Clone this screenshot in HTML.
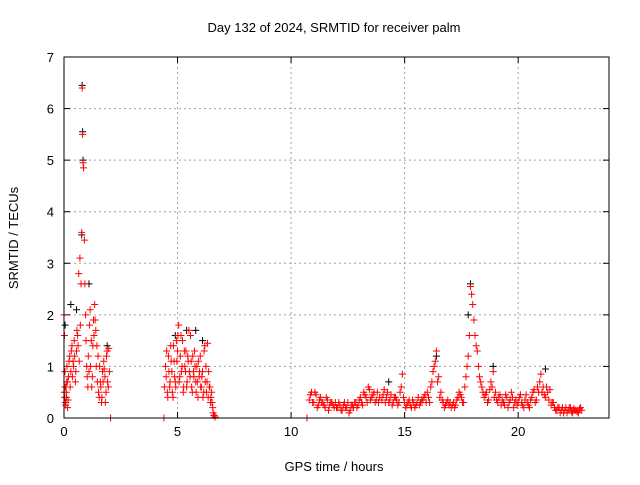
<!DOCTYPE html>
<html><head><meta charset="utf-8"><style>
body{margin:0;background:#fff;}
svg text{font-family:"Liberation Sans",sans-serif;font-size:13px;fill:#000;}
</style></head><body>
<svg id="chart" width="640" height="480" xmlns="http://www.w3.org/2000/svg">
<rect width="640" height="480" fill="#fff"/>
<text x="334" y="32" text-anchor="middle">Day 132 of 2024, SRMTID for receiver palm</text>
<text x="334" y="471" text-anchor="middle">GPS time / hours</text>
<text transform="translate(18,238) rotate(-90)" text-anchor="middle">SRMTID / TECUs</text>
<g id="grid"></g>
<g id="axes"></g>
<g id="black"></g>
<g id="red"></g>
<rect x="64" y="57" width="545" height="361" fill="none" stroke="#000" stroke-width="1"/>
</svg>
<script>
const xTicks=[0,5,10,15,20];
const yTicks=[0,1,2,3,4,5,6,7];
const redT=[0.0,0.02,0.03,0.05,0.06,0.08,0.1,0.12,0.13,0.16,0.2,0.25,0.3,0.35,0.4,0.45,0.5,0.55,0.6,0.65,0.7,0.72,0.75,0.78,0.8,0.82,0.84,0.86,0.9,0.95,1.0,1.05,1.1,1.15,1.2,1.25,1.3,1.35,1.4,1.45,1.5,1.55,1.6,1.65,1.7,1.75,1.8,1.85,1.9,1.95,2.0,2.05,
4.4,4.5,4.55,4.6,4.65,4.7,4.75,4.8,4.85,4.9,4.95,5.0,5.05,5.1,5.15,5.2,5.25,5.3,5.35,5.4,5.45,5.5,5.55,5.6,5.65,5.7,5.75,5.8,5.85,5.9,5.95,6.0,6.05,6.1,6.15,6.2,6.25,6.3,6.35,6.4,6.45,6.5,6.55,6.6,6.65,
10.7,10.8,10.9,11.0,11.1,11.2,11.3,11.4,11.5,11.6,11.7,11.8,11.9,12.0,12.1,12.2,12.3,12.4,12.5,12.6,12.7,12.8,12.9,13.0,13.1,13.2,13.3,13.4,13.5,13.6,13.7,13.8,13.9,14.0,14.1,14.2,14.3,14.4,14.5,14.6,14.7,14.8,14.9,15.0,15.1,15.2,15.3,15.4,15.5,15.6,15.7,15.8,15.9,16.0,16.1,16.2,16.3,16.4,16.5,16.6,16.7,16.8,16.9,17.0,17.1,17.2,17.3,17.4,17.5,17.6,17.7,17.8,17.9,18.0,18.1,18.2,18.3,18.4,18.5,18.6,18.7,18.8,18.9,19.0,19.1,19.2,19.3,19.4,19.5,19.6,19.7,19.8,19.9,20.0,20.1,20.2,20.3,20.4,20.5,20.6,20.7,20.8,20.9,21.0,21.1,21.2,21.3,21.4,21.5,21.6,21.7,21.8,21.9,22.0,22.1,22.2,22.3,22.4,22.5,22.6,22.7,22.8];
const redV=[2.0,1.6,0.4,0.6,0.3,0.3,0.5,0.7,1.0,0.2,0.8,1.2,0.9,1.4,1.1,1.5,0.7,1.3,1.6,2.8,3.1,1.8,2.6,3.6,6.4,5.5,4.95,4.85,3.45,2.0,1.0,0.6,0.9,2.1,1.5,0.8,1.9,2.2,1.7,1.4,1.2,0.4,0.7,0.3,0.9,1.1,0.8,0.5,1.3,0.6,0.9,0.0,
0.0,0.8,0.5,1.2,0.6,1.4,0.9,0.4,1.1,0.7,1.5,1.3,1.8,0.8,1.6,1.0,0.5,1.3,0.9,0.6,1.2,1.7,0.8,1.1,0.5,0.9,1.3,0.7,1.0,0.4,0.8,1.2,0.6,0.9,0.5,1.4,1.0,0.7,0.4,0.6,0.3,0.5,0.2,0.05,0.02,
0.0,0.35,0.5,0.3,0.45,0.25,0.4,0.3,0.2,0.35,0.25,0.3,0.2,0.2,0.3,0.15,0.25,0.2,0.3,0.15,0.25,0.3,0.2,0.35,0.3,0.5,0.4,0.6,0.35,0.45,0.3,0.5,0.4,0.35,0.55,0.4,0.3,0.45,0.3,0.4,0.25,0.5,0.85,0.3,0.25,0.35,0.2,0.3,0.25,0.4,0.3,0.35,0.45,0.5,0.3,0.7,1.0,1.3,0.8,0.5,0.3,0.25,0.35,0.3,0.25,0.2,0.35,0.5,0.4,0.3,0.8,1.2,2.55,2.2,1.6,1.3,0.8,0.6,0.4,0.5,0.35,0.7,0.9,0.5,0.3,0.45,0.35,0.25,0.4,0.3,0.5,0.2,0.35,0.3,0.45,0.25,0.35,0.3,0.2,0.4,0.55,0.35,0.5,0.85,0.6,0.4,0.5,0.55,0.3,0.2,0.15,0.2,0.15,0.1,0.2,0.15,0.2,0.1,0.15,0.12,0.18,0.15];
const red2T=[0.01,0.04,0.07,0.09,0.11,0.15,0.18,0.22,0.27,0.32,0.37,0.42,0.47,0.52,0.57,0.62,0.67,0.92,0.97,1.02,1.07,1.12,1.17,1.22,1.27,1.32,1.37,1.42,1.47,1.52,1.57,1.62,1.67,1.72,1.77,1.82,1.87,1.92,1.97,
4.42,4.47,4.52,4.57,4.62,4.67,4.72,4.77,4.82,4.87,4.92,4.97,5.02,5.07,5.12,5.17,5.22,5.27,5.32,5.37,5.42,5.47,5.52,5.57,5.62,5.67,5.72,5.77,5.82,5.87,5.92,5.97,6.02,6.07,6.12,6.17,6.22,6.27,6.32,6.37,6.42,6.47,6.52,6.57,6.62,
10.85,10.95,11.05,11.15,11.25,11.35,11.45,11.55,11.65,11.75,11.85,11.95,12.05,12.15,12.25,12.35,12.45,12.55,12.65,12.75,12.85,12.95,13.05,13.15,13.25,13.35,13.45,13.55,13.65,13.75,13.85,14.05,14.15,14.25,14.35,14.45,14.55,14.65,14.75,14.85,14.95,15.05,15.15,15.25,15.35,15.45,15.55,15.65,15.75,15.85,15.95,16.05,16.15,16.25,16.35,16.45,16.55,16.65,16.75,16.85,16.95,17.05,17.15,17.25,17.35,17.45,17.55,17.65,17.75,17.85,17.95,18.05,18.15,18.25,18.35,18.45,18.55,18.65,18.75,18.85,18.95,19.05,19.15,19.25,19.35,19.45,19.55,19.65,19.75,19.85,19.95,20.05,20.15,20.25,20.35,20.45,20.55,20.65,20.75,20.85,20.95,21.05,21.15,21.25,21.35,21.45,21.55,21.65,21.75,21.85,21.95,22.05,22.15,22.25,22.35,22.45,22.55,22.65,22.75];
const red2V=[0.5,0.9,0.25,0.6,0.4,0.7,0.35,1.1,0.6,1.3,0.8,1.0,1.2,0.9,1.7,1.4,1.1,2.6,1.5,0.8,1.2,1.8,1.0,0.6,1.4,1.6,1.9,1.0,0.7,0.5,1.0,0.6,0.4,0.7,0.95,0.3,1.2,0.7,1.35,
0.6,1.0,1.3,0.4,0.9,0.7,1.1,0.5,1.4,0.8,0.6,1.1,1.6,0.7,1.2,0.9,1.5,0.6,1.0,1.3,0.7,1.1,0.9,1.6,0.6,1.2,0.8,1.0,0.5,0.7,1.1,0.9,0.6,0.8,0.4,1.3,0.7,0.5,1.45,0.9,0.6,0.4,0.3,0.1,0.05,
0.45,0.3,0.5,0.2,0.35,0.3,0.25,0.4,0.15,0.3,0.25,0.3,0.2,0.25,0.15,0.3,0.2,0.1,0.25,0.2,0.3,0.25,0.4,0.25,0.45,0.3,0.55,0.4,0.5,0.35,0.3,0.45,0.3,0.5,0.35,0.25,0.4,0.35,0.3,0.6,0.4,0.2,0.3,0.25,0.35,0.2,0.3,0.25,0.35,0.4,0.3,0.4,0.6,0.9,1.1,0.7,0.4,0.35,0.2,0.3,0.25,0.2,0.3,0.25,0.4,0.45,0.3,0.6,1.0,1.6,2.4,1.9,1.4,1.0,0.7,0.5,0.45,0.3,0.55,0.6,0.4,0.35,0.4,0.25,0.3,0.45,0.2,0.35,0.4,0.3,0.25,0.4,0.3,0.2,0.45,0.25,0.35,0.5,0.3,0.6,0.7,0.5,0.45,0.6,0.35,0.25,0.3,0.15,0.2,0.1,0.2,0.15,0.1,0.2,0.12,0.18,0.15,0.1,0.2];
const blackT=[0.05,0.3,0.55,0.8,0.82,0.84,0.78,1.1,1.9,4.9,5.4,5.8,6.1,14.3,16.4,17.8,17.9,18.9,21.2];
const blackV=[1.8,2.2,2.1,6.45,5.55,5.0,3.55,2.6,1.4,1.6,1.7,1.7,1.5,0.7,1.2,2.0,2.6,1.0,0.95];
const X0=64,X1=609,Y0=418,Y1=57,XMAX=24,YMAX=7;
const sx=t=>X0+t/XMAX*(X1-X0);
const sy=v=>Y0-v/YMAX*(Y0-Y1);
const NS="http://www.w3.org/2000/svg";
function mk(tag,attrs,parent){const e=document.createElementNS(NS,tag);for(const k in attrs)e.setAttribute(k,attrs[k]);parent.appendChild(e);return e;}
const grid=document.getElementById('grid'),axes=document.getElementById('axes');
xTicks.forEach(t=>{
  const x=sx(t);
  if(t>0){const g=mk('line',{x1:x,x2:x,y1:Y1,y2:Y0,stroke:'#a0a0a0','stroke-dasharray':'2,3'},grid);
  
  }
  mk('line',{x1:x,x2:x,y1:Y0,y2:Y0-6,stroke:'#000'},axes);
  mk('line',{x1:x,x2:x,y1:Y1,y2:Y1+6,stroke:'#000'},axes);
  const l=mk('text',{x:x,y:Y0+18,'text-anchor':'middle'},axes);l.textContent=t;
  
  
});
yTicks.forEach(v=>{
  const y=sy(v);
  if(v>0&&v<7){const g=mk('line',{x1:X0,x2:X1,y1:y,y2:y,stroke:'#a0a0a0','stroke-dasharray':'2,3'},grid);
  
  }
  mk('line',{x1:X0,x2:X0+6,y1:y,y2:y,stroke:'#000'},axes);
  mk('line',{x1:X1,x2:X1-6,y1:y,y2:y,stroke:'#000'},axes);
  const l=mk('text',{x:X0-10,y:y+5,'text-anchor':'end'},axes);l.textContent=v;
  
  
});
function plus(t,v,col,g,name){
  const x=sx(t),y=sy(v);
  const p=mk('path',{d:`M${x-3.5},${y}H${x+3.5}M${x},${y-3.5}V${y+3.5}`,stroke:col,'stroke-width':1,fill:'none'},g);
  
  
}
const bg=document.getElementById('black'),rg=document.getElementById('red');
blackT.forEach((t,i)=>plus(t,blackV[i],'#000',bg,'black-point'));
redT.forEach((t,i)=>plus(t,redV[i],'#ff0000',rg,'red-point'));
red2T.forEach((t,i)=>plus(t,red2V[i],'#ff0000',rg,'red-point'));
</script>
</body></html>
